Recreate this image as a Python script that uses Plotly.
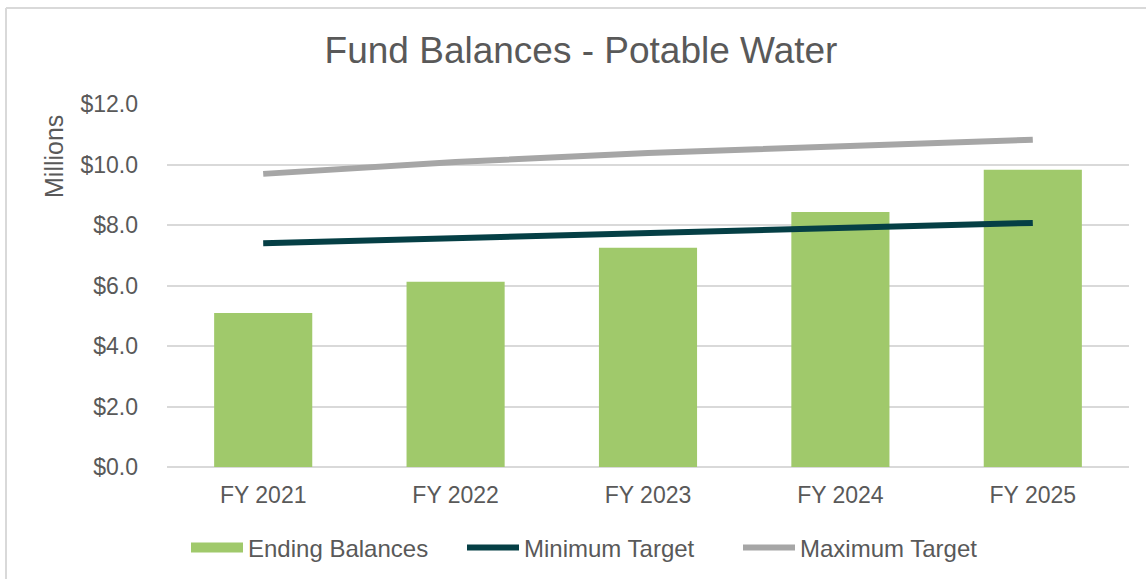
import plotly.graph_objects as go

categories = ["FY 2021", "FY 2022", "FY 2023", "FY 2024", "FY 2025"]
ending_balances = [5.09, 6.12, 7.25, 8.43, 9.83]
minimum_target = [7.40, 7.57, 7.74, 7.90, 8.07]
maximum_target = [9.69, 10.08, 10.38, 10.61, 10.82]
y_ticks = [0, 2, 4, 6, 8, 10, 12]
y_tick_labels = ["$0.0", "$2.0", "$4.0", "$6.0", "$8.0", "$10.0", "$12.0"]

FONT = "Liberation Sans, Arial, sans-serif"
TXT = "#595959"
GREEN = "#A0C96B"

L, T, PW, PH = 167, 104, 962, 363
W, H = 1146, 579

fig = go.Figure()
fig.add_trace(go.Bar(x=categories, y=ending_balances, name="Ending Balances",
                     marker=dict(color=GREEN, line=dict(width=0)), showlegend=False,
                     legendgroup="eb"))
# legend swatch for the bars (wide rectangle like the reference)
fig.add_trace(go.Scatter(x=[None], y=[None], name="Ending Balances", mode="lines",
                         line=dict(color=GREEN, width=13), legendgroup="eb"))
fig.add_trace(go.Scatter(x=categories, y=minimum_target, name="Minimum Target",
                         mode="lines", line=dict(color="#053F45", width=6)))
fig.add_trace(go.Scatter(x=categories, y=maximum_target, name="Maximum Target",
                         mode="lines", line=dict(color="#A6A6A6", width=6)))

def px_x(x):
    return (x - L) / PW

def px_y(y):
    return (T + PH - y) / PH

fig.update_layout(
    width=W, height=H,
    margin=dict(l=L, r=W - L - PW, t=T, b=H - T - PH),
    paper_bgcolor="white", plot_bgcolor="white",
    font=dict(family=FONT, color=TXT, size=23),
    title=dict(text="Fund Balances - Potable Water", x=581 / W, xanchor="center",
               y=1 - 50 / H, yanchor="middle", yref="container", xref="container",
               font=dict(size=37, color=TXT, family=FONT)),
    bargap=0.49,
    showlegend=True,
    legend=dict(orientation="h", xref="container", yref="container",
                x=186 / W, xanchor="left", y=1 - 548 / H, yanchor="middle",
                font=dict(size=24, color=TXT, family=FONT),
                itemwidth=52, traceorder="normal", entrywidth=209, entrywidthmode="pixels"),
    xaxis=dict(showgrid=False, showline=False, ticks="", ticklabelstandoff=12,
               tickfont=dict(size=23, color=TXT)),
    yaxis=dict(range=[0, 12], tickvals=y_ticks, ticktext=y_tick_labels,
               showgrid=True, gridcolor="#D9D9D9", gridwidth=2,
               zeroline=True, zerolinecolor="#D9D9D9", zerolinewidth=2,
               showline=False, ticks="", ticklabelstandoff=28,
               tickfont=dict(size=23, color=TXT)),
    annotations=[
        dict(text="Millions", xref="paper", yref="paper", x=px_x(54),
             y=px_y(157), textangle=-90, showarrow=False,
             font=dict(size=25, color=TXT, family=FONT), xanchor="center", yanchor="middle"),
    ],
)
# outer chart border (left and top visible in reference)
fig.add_shape(type="line", xref="paper", yref="paper",
              x0=px_x(6), x1=px_x(6), y0=px_y(8), y1=px_y(620),
              line=dict(color="#D9D9D9", width=2))
fig.add_shape(type="line", xref="paper", yref="paper",
              x0=px_x(6), x1=px_x(1200), y0=px_y(8), y1=px_y(8),
              line=dict(color="#D9D9D9", width=2))

fig.write_html("out.html", config={"displayModeBar": False},
               post_script="document.body.style.margin='0';document.body.style.padding='0';")
